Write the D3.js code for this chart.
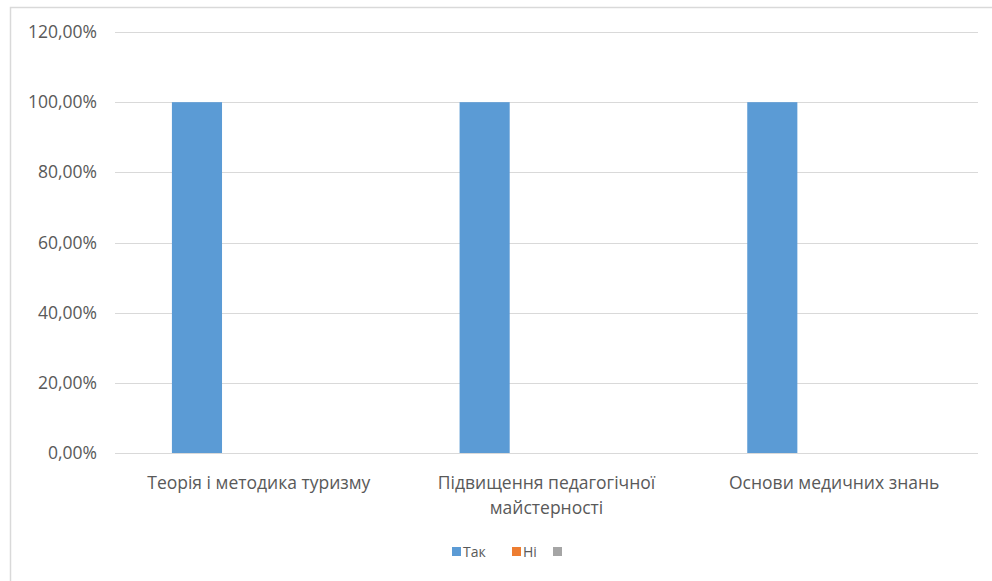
<!DOCTYPE html>
<html><head><meta charset="utf-8">
<script src="https://cdn.jsdelivr.net/npm/d3@7"></script>
<style>body{margin:0;background:#fff}svg{display:block}text{font-family:"Open Sans",sans-serif;fill:#595959}</style>
</head><body><svg id="c" width="992" height="581"></svg>
<script>
const categories = [["Теорія і методика туризму"], ["Підвищення педагогічної", "майстерності"], ["Основи медичних знань"]];
const seriesNames = ["Так", "Ні", ""];
const seriesColors = ["#5B9BD5", "#ED7D31", "#A5A5A5"];
const valuesTak = [1, 1, 1];
const valuesNi = [0, 0, 0];
const valuesThird = [0, 0, 0];
const yTicks = [0, 0.2, 0.4, 0.6, 0.8, 1.0, 1.2];

const series = [valuesTak, valuesNi, valuesThird];
const svg = d3.select("#c");
svg.append("rect").attr("x", 10.5).attr("y", 7.5).attr("width", 1000).attr("height", 600)
  .attr("fill", "#fff").attr("stroke", "#d9d9d9").attr("stroke-width", 1.5);

const m = {l: 115, r: 978, t: 32, b: 453};
const x0 = d3.scaleBand().domain(d3.range(categories.length)).range([m.l, m.r]).paddingInner(0).paddingOuter(0);
const x1 = d3.scaleBand().domain(d3.range(series.length)).range([0, x0.bandwidth()]).paddingInner(0.19).paddingOuter(0.92);
const y = d3.scaleLinear().domain([0, 1.2]).range([m.b, m.t]);
const fmt = v => (v * 100).toFixed(2).replace(".", ",") + "%";

const grid = svg.append("g");
yTicks.forEach(t => {
  grid.append("line").attr("x1", m.l).attr("x2", m.r).attr("y1", Math.round(y(t)) + 0.5).attr("y2", Math.round(y(t)) + 0.5)
    .attr("stroke", "#d9d9d9").attr("stroke-width", 1);
});
const yAxis = d3.axisLeft(y).tickValues(yTicks).tickFormat(fmt).tickSize(0).tickPadding(18);
const ya = svg.append("g").attr("transform", `translate(${m.l},0)`).call(yAxis);
ya.select(".domain").remove();
ya.selectAll("text").style("font-size", "17.5px").attr("fill", "#595959").style("font-family", '"Open Sans",sans-serif');

series.forEach((vals, si) => {
  svg.append("g").selectAll("rect").data(vals).join("rect")
    .attr("x", (d, i) => x0(i) + x1(si))
    .attr("width", x1.bandwidth())
    .attr("y", d => y(d))
    .attr("height", d => y(0) - y(d))
    .attr("fill", seriesColors[si]);
});

const xl = svg.append("g");
categories.forEach((lines, i) => {
  const t = xl.append("text").attr("x", x0(i) + x0.bandwidth() / 2).attr("y", 489)
    .attr("text-anchor", "middle").style("font-size", "17.5px");
  lines.forEach((ln, k) => t.append("tspan").attr("x", x0(i) + x0.bandwidth() / 2).attr("dy", k === 0 ? 0 : 25).text(ln));
});

const leg = svg.append("g");
const legX = [452, 512, 553];
seriesNames.forEach((n, i) => {
  leg.append("rect").attr("x", legX[i]).attr("y", 547).attr("width", 9).attr("height", 9).attr("fill", seriesColors[i]);
  leg.append("text").attr("x", legX[i] + 11).attr("y", 557).style("font-size", "14px").text(n);
});
</script></body></html>
